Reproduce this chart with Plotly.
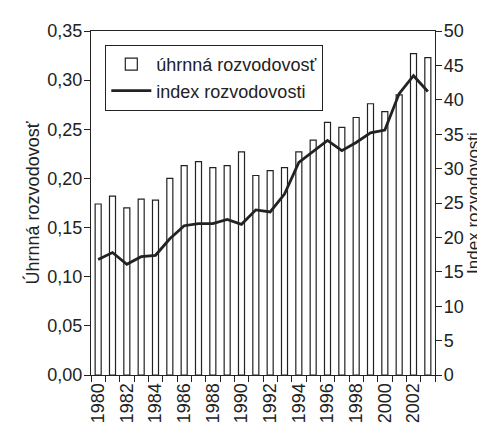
import plotly.graph_objects as go

years = list(range(1980, 2004))
uhrnna = [0.174, 0.182, 0.170, 0.179, 0.178, 0.200, 0.213, 0.217, 0.211, 0.213,
          0.227, 0.203, 0.208, 0.211, 0.227, 0.239, 0.257, 0.252, 0.262, 0.276,
          0.268, 0.285, 0.327, 0.323]
index_rozv = [16.8, 17.8, 16.1, 17.2, 17.4, 19.8, 21.7, 22.0, 22.0, 22.6,
              21.9, 24.0, 23.7, 26.3, 30.9, 32.5, 34.1, 32.6, 33.8, 35.2,
              35.6, 40.9, 43.5, 41.2]
left_ticks = [0, 0.05, 0.10, 0.15, 0.20, 0.25, 0.30, 0.35]
right_ticks = [0, 5, 10, 15, 20, 25, 30, 35, 40, 45, 50]
year_labels = list(range(1980, 2004, 2))

FONT = "Liberation Sans, Arial, sans-serif"

fig = go.Figure()
fig.add_trace(go.Bar(x=years, y=uhrnna, name="úhrnná rozvodovosť",
                     marker=dict(color="white", line=dict(color="#222", width=1.2)),
                     width=0.42, yaxis="y"))
fig.add_trace(go.Scatter(x=years, y=index_rozv, name="index rozvodovosti",
                         mode="lines", line=dict(color="#222", width=2.8),
                         yaxis="y2"))

fig.update_layout(
    width=485, height=427,
    margin=dict(l=83, r=58, t=23, b=56),
    paper_bgcolor="white", plot_bgcolor="white",
    separators=", ",
    font=dict(family=FONT, size=18, color="#222"),
    showlegend=True,
    legend=dict(x=0.041, y=0.96, xanchor="left", yanchor="top",
                bordercolor="#222", borderwidth=1.2, bgcolor="white",
                font=dict(size=18), tracegroupgap=0, itemwidth=40),
    xaxis=dict(range=[1979.5, 2003.5], tickmode="array", tickvals=year_labels,
               ticktext=[str(y) for y in year_labels], tickangle=-90,
               ticks="", showline=True, linecolor="#222", linewidth=1.2,
               mirror=True, showgrid=False, zeroline=False,
               tickfont=dict(size=18),
               minor=dict(tick0=1979.5, dtick=1, ticks="outside", ticklen=6,
                          tickcolor="#222", tickwidth=1.2)),
    yaxis=dict(range=[0, 0.35], tickmode="array", tickvals=left_ticks,
               tickformat=".2f", ticks="outside", ticklen=6, tickwidth=1.2,
               tickcolor="#222", showline=True, linecolor="#222", linewidth=1.2,
               showgrid=False, zeroline=False, ticklabelstandoff=-2,
               tickfont=dict(size=18),
               title=dict(text="Úhrnná rozvodovosť", standoff=2,
                          font=dict(size=18))),
    yaxis2=dict(range=[0, 50], tickmode="array", tickvals=right_ticks,
                overlaying="y", side="right", ticks="outside", ticklen=6,
                tickwidth=1.2, tickcolor="#222", showline=True, linecolor="#222",
                linewidth=1.2, showgrid=False, zeroline=False,
                ticklabelstandoff=-2, tickfont=dict(size=18),
                title=dict(text="Index rozvodovosti", standoff=0,
                           font=dict(size=17))),
)

fig.write_html("out.html")
